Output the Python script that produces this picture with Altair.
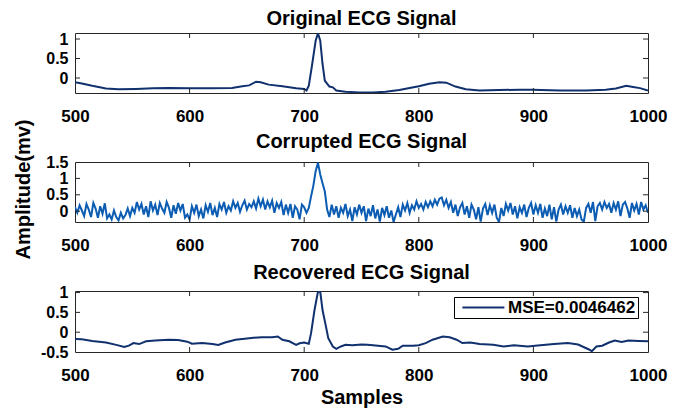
import altair as alt
import pandas as pd

# ---------------- data ----------------
x_ticks = [500, 600, 700, 800, 900, 1000]
x_inner_ticks = [600, 700, 800, 900]

titles = ["Original ECG Signal", "Corrupted ECG Signal", "Recovered ECG Signal"]
y_label = "Amplitude(mv)"
x_label = "Samples"
legend_label = "MSE=0.0046462"

orig_s = [500, 506, 515, 527, 538, 553, 568, 582, 600, 617,
          637, 646, 652, 658, 662, 669, 681, 693, 700, 702,
          704, 707, 710, 712, 714, 716, 718, 722, 725, 728,
          736, 748, 760, 771, 783, 792, 800, 809, 818, 824,
          832, 841, 853, 870, 888, 899, 923, 946, 963, 972,
          981, 987, 993, 1000]
orig_v = [-0.11, -0.14, -0.2, -0.27, -0.29, -0.28, -0.265, -0.256, -0.265, -0.265,
          -0.256, -0.21, -0.19, -0.094, -0.11, -0.17, -0.21, -0.265, -0.28, -0.32,
          -0.2, 0.36, 0.96, 1.15, 0.96, 0.36, -0.07, -0.22, -0.24, -0.32,
          -0.35, -0.37, -0.375, -0.35, -0.31, -0.256, -0.21, -0.15, -0.11, -0.12,
          -0.22, -0.29, -0.32, -0.31, -0.3, -0.3, -0.32, -0.32, -0.3, -0.27,
          -0.2, -0.23, -0.26, -0.32]

corr_s = list(range(500, 1001, 2))
corr_v = [0.12, -0.05, 0.18, 0.02, -0.15,
          0.22, 0.05, -0.18, 0.25, 0.08,
          -0.2, 0.15, -0.08, 0.24, -0.22,
          -0.1, -0.25, 0.02, -0.18, -0.28,
          -0.05, -0.22, -0.12, 0.08, -0.15,
          0.1, -0.05, 0.28, 0.05, 0.22,
          -0.1, 0.15, -0.18, 0.3, 0.02,
          0.2, -0.12, 0.25, 0.08, -0.05,
          0.28, 0.1, -0.2, 0.18, -0.08,
          0.25, 0.02, 0.22, -0.2, -0.1,
          -0.25, 0.15, -0.05, 0.2, -0.15,
          0.05, -0.22, 0.18, -0.02, 0.25,
          -0.12, 0.1, -0.18, 0.22, 0.05,
          0.28, -0.05, 0.15, 0.02, 0.3,
          0.1, 0.25, -0.02, 0.18, 0.32,
          0.05, 0.22, 0.12, 0.3, 0.08,
          0.38, 0.15, 0.35, 0.05, 0.3,
          0.12, 0.32, -0.05, 0.25, 0.1,
          0.28, -0.12, 0.2, -0.05, 0.22,
          -0.2, 0.15, 0.05, -0.25, 0.2,
          0.12, -0.05, 0.1, 0.45, 0.78,
          1.22, 1.48, 1.12, 0.85, 0.6,
          0.05, -0.18, 0.2, -0.1, 0.15,
          -0.2, 0.1, -0.05, 0.22, -0.15,
          0.05, -0.3, 0.12, -0.1, 0.2,
          -0.05, 0.15, -0.3, 0.08, -0.15,
          0.18, -0.22, 0.05, -0.32, 0.1,
          -0.12, 0.15, -0.2, 0.02, -0.33,
          -0.1, 0.12, -0.18, 0.2, 0.02,
          0.25, -0.05, 0.18, 0.05, 0.3,
          0.1, 0.22, 0.05, 0.28, 0.12,
          0.3, 0.15, 0.35, 0.2, 0.38,
          0.42, 0.18, 0.35, 0.1, 0.28,
          -0.05, 0.2, -0.15, 0.12, 0.25,
          -0.1, 0.15, -0.2, 0.2, 0.05,
          -0.25, 0.12, -0.32, 0.08, 0.22,
          -0.12, 0.18, -0.05, 0.2, -0.2,
          -0.33, 0.1, -0.15, 0.22, 0.02,
          0.25, -0.1, 0.15, -0.22, 0.12,
          -0.05, 0.2, -0.18, 0.1, 0.25,
          -0.1, 0.18, -0.05, 0.22, -0.2,
          0.08, -0.15, 0.2, -0.25, 0.12,
          -0.32, 0.05, 0.2, -0.1, 0.15,
          -0.05, 0.18, -0.2, 0.1, -0.15,
          0.05, -0.25, -0.32, 0.1, 0.22,
          -0.05, 0.28, -0.3, 0.15, 0.25,
          0.05, 0.28, 0.1, 0.22, -0.05,
          0.25, 0.05, 0.3, -0.15, 0.2,
          0.28, 0.08, -0.2, 0.25, 0.02,
          0.22, -0.1, 0.28, 0.05, 0.18,
          -0.05]

rec_s = [500, 506, 515, 527, 536, 543, 547, 551, 556, 562,
         570, 582, 590, 598, 602, 611, 620, 625, 631, 640,
         652, 663, 672, 677, 681, 687, 693, 696, 700, 704,
         706, 709, 712, 714, 716, 719, 721, 725, 728, 732,
         736, 742, 750, 755, 760, 771, 777, 782, 786, 795,
         800, 806, 812, 821, 827, 833, 838, 845, 853, 865,
         874, 883, 895, 906, 918, 930, 939, 948, 951, 955,
         960, 966, 971, 977, 983, 992, 1000]
rec_v = [-0.17, -0.18, -0.22, -0.26, -0.32, -0.375, -0.34, -0.275, -0.3, -0.23,
         -0.21, -0.19, -0.2, -0.24, -0.29, -0.275, -0.3, -0.32, -0.26, -0.19,
         -0.15, -0.125, -0.13, -0.11, -0.19, -0.23, -0.32, -0.28, -0.26, -0.29,
         -0.025, 0.56, 1.02, 1.02, 0.56, 0.14, -0.15, -0.36, -0.42, -0.36,
         -0.32, -0.33, -0.31, -0.32, -0.33, -0.36, -0.44, -0.42, -0.34, -0.34,
         -0.33, -0.275, -0.19, -0.11, -0.13, -0.19, -0.275, -0.26, -0.3, -0.32,
         -0.36, -0.33, -0.36, -0.33, -0.3, -0.275, -0.31, -0.43, -0.48, -0.36,
         -0.34, -0.26, -0.21, -0.25, -0.21, -0.22, -0.23]

y_domains = [[-0.385, 1.155], [-0.33, 1.5], [-0.5, 1.04]]
y_ticks = [[0, 0.5, 1], [0, 0.5, 1, 1.5], [-0.5, 0, 0.5, 1]]

# ---------------- styling ----------------
FONT = "Liberation Sans"
FRAME = "#262626"
NAVY = "#10306e"
BLUE = "#0b5cb2"
W = 573
TICK = 5


def panel(s, v, color, title, ydom, yticks, H, ytitle=None, xtitle=None, legend=False):
    df = pd.DataFrame({"s": s, "v": v, "series": legend_label})
    xsc = alt.Scale(domain=[500, 1000], nice=False, zero=False)
    ysc = alt.Scale(domain=ydom, nice=False, zero=False)

    xaxis = alt.Axis(values=x_ticks, format="d", ticks=False, tickSize=0, domain=False,
                     grid=False, labelFont=FONT, labelFontSize=17, labelFontWeight="bold",
                     labelColor="black", labelPadding=15, labelFlush=False,
                     labelOverlap=False,
                     title=xtitle if xtitle else None,
                     titleFont=FONT, titleFontSize=20, titleFontWeight="bold",
                     titleColor="black", titlePadding=4)
    yaxis_kw = dict(values=yticks, labelExpr="'' + datum.value", ticks=False,
                    tickSize=0, domain=False, grid=False,
                    labelFont=FONT, labelFontSize=16, labelFontWeight="bold",
                    labelColor="black", labelPadding=7, labelFlush=False,
                    labelOverlap=False)
    if ytitle:
        yaxis = alt.Axis(title=ytitle, titleFont=FONT, titleFontSize=20,
                         titleFontWeight="bold", titleColor="black",
                         titlePadding=12, titleY=156, **yaxis_kw)
    else:
        yaxis = alt.Axis(title=None, **yaxis_kw)

    if legend:
        col = alt.Color("series:N",
                        scale=alt.Scale(domain=[legend_label], range=[color]),
                        legend=alt.Legend(orient="none", legendX=379, legendY=6,
                                          title=None, symbolType="M-0.3,0H5.7",
                                          symbolSize=196, symbolStrokeWidth=2,
                                          labelFont=FONT, labelFontSize=17,
                                          labelFontWeight="bold", labelColor="black",
                                          labelOffset=35, strokeColor="black",
                                          fillColor="white", padding=2,
                                          offset=0))
    else:
        col = alt.value(color)

    line = alt.Chart(df).mark_line(strokeWidth=2, clip=True).encode(
        x=alt.X("s:Q", scale=xsc, axis=xaxis),
        y=alt.Y("v:Q", scale=ysc, axis=yaxis),
        color=col,
    )

    xt = pd.DataFrame({"s": x_inner_ticks})
    yt = pd.DataFrame({"v": [t for t in yticks if ydom[0] < t < ydom[1]]})
    tick_top = alt.Chart(xt).mark_rule(color=FRAME, strokeWidth=1).encode(
        x=alt.X("s:Q", scale=xsc, axis=xaxis), y=alt.value(0), y2=alt.value(TICK))
    tick_bot = alt.Chart(xt).mark_rule(color=FRAME, strokeWidth=1).encode(
        x=alt.X("s:Q", scale=xsc, axis=xaxis), y=alt.value(H), y2=alt.value(H - TICK))
    tick_left = alt.Chart(yt).mark_rule(color=FRAME, strokeWidth=1).encode(
        y=alt.Y("v:Q", scale=ysc, axis=yaxis), x=alt.value(0), x2=alt.value(TICK))
    tick_right = alt.Chart(yt).mark_rule(color=FRAME, strokeWidth=1).encode(
        y=alt.Y("v:Q", scale=ysc, axis=yaxis), x=alt.value(W), x2=alt.value(W - TICK))

    return alt.layer(line, tick_top, tick_bot, tick_left, tick_right).properties(
        width=W, height=H,
        title=alt.TitleParams(title, font=FONT, fontSize=20, fontWeight="bold",
                              color="black", anchor="middle", offset=2),
    )


p1 = panel(orig_s, orig_v, NAVY, titles[0], y_domains[0], y_ticks[0], 60,
           ytitle=y_label)
p2 = panel(corr_s, corr_v, BLUE, titles[1], y_domains[1], y_ticks[1], 60)
p3 = panel(rec_s, rec_v, NAVY, titles[2], y_domains[2], y_ticks[2], 61,
           xtitle=x_label, legend=True)

chart = alt.vconcat(p1, p2, p3, spacing=69, bounds="flush").resolve_scale(
    color="independent"
).resolve_legend(color="independent").properties(
    padding={"left": 5, "top": 0, "right": 5, "bottom": 0},
    background="white",
).configure_view(stroke=FRAME, strokeWidth=1).configure_axis(grid=False)

chart.save("out.html", embed_options={"renderer": "svg", "actions": False})
